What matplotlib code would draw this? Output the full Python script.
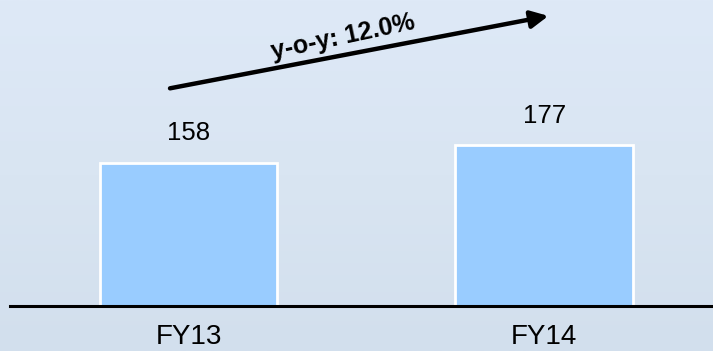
import matplotlib

matplotlib.use("Agg")
import matplotlib.pyplot as plt
import numpy as np
from matplotlib.colors import LinearSegmentedColormap

plt.rcParams["font.family"] = ["Liberation Sans", "DejaVu Sans"]

years = ["FY13", "FY14"]
values = [158, 177]
yoy_label = "y-o-y: 12.0%"

fig = plt.figure(figsize=(7.13, 3.51), dpi=100)

# soft blue backdrop standing in for the faded photo
bg = fig.add_axes([0, 0, 1, 1], zorder=0)
grad = np.linspace(0, 1, 256).reshape(-1, 1)
cmap = LinearSegmentedColormap.from_list("bg", ["#dee9f7", "#d9e5f2", "#d2dfed"])
bg.imshow(grad, aspect="auto", cmap=cmap, extent=[0, 1, 0, 1], origin="upper")
bg.axis("off")

ax = fig.add_axes([10 / 713, 45.5 / 351, 703 / 713, 305.5 / 351], zorder=1)
ax.patch.set_alpha(0)

x = np.arange(len(years))
ax.bar(x, values, width=0.5, color="#99ccff", edgecolor="white", linewidth=2)

for xi, v in zip(x, values):
    ax.annotate(str(v), (xi, v), xytext=(0, 21), textcoords="offset points",
                ha="center", va="center", fontsize=18.5)

ax.set_xlim(-0.502, 1.475)
ax.set_ylim(0, 337.6)
ax.set_xticks(x)
ax.set_xticklabels(years, fontsize=20)
ax.tick_params(axis="x", length=0, pad=13)
ax.set_yticks([])
for side in ["top", "left", "right"]:
    ax.spines[side].set_visible(False)
ax.spines["bottom"].set_linewidth(2.2)

# growth arrow
ax.annotate("", xy=(1.012, 320), xytext=(-0.052, 240),
            arrowprops=dict(arrowstyle="-|>", lw=3.2, color="black",
                            mutation_scale=26, shrinkA=0, shrinkB=0))
ax.text(0.435, 297, yoy_label, fontsize=18, fontweight="bold",
        rotation=12, ha="center", va="center", rotation_mode="anchor")

fig.savefig("out.png", dpi=100)
